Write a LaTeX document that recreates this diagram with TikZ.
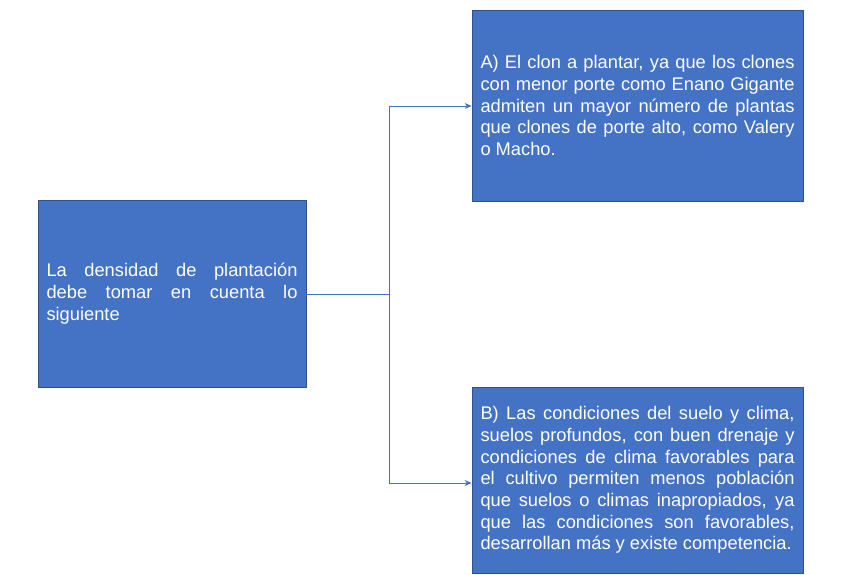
\documentclass[tikz,border=0pt]{standalone}
\usepackage{fontspec}
\setmainfont{Liberation Sans}
\usetikzlibrary{arrows.meta}
\definecolor{boxfill}{HTML}{4472C4}
\definecolor{boxline}{HTML}{2F528F}
\definecolor{conn}{HTML}{4472C4}
\begin{document}
\begin{tikzpicture}[x=1pt,y=-1pt,
  box/.style={draw=boxline,line width=0.8pt,fill=boxfill,text=white,inner sep=0pt,
    align=justify,font=\fontsize{18.3}{21.7}\selectfont},
  conline/.style={draw=conn,line width=0.9pt},
  arr/.style={conline,-{Stealth[length=7pt,width=6pt]}}]
\useasboundingbox (0,0) rectangle (857,574);
\node[box,minimum width=268pt,minimum height=187pt,text width=251pt] (L) at (172,293.5)
  {La densidad de plantación\linebreak debe tomar en cuenta lo\linebreak siguiente};
\node[box,minimum width=331pt,minimum height=191pt,text width=314pt] (A) at (637.5,105.5)
  {A) El clon a plantar, ya que los clones\linebreak con menor porte como Enano Gigante\linebreak admiten un mayor número de plantas\linebreak que clones de porte alto, como Valery\linebreak o Macho.};
\node[box,minimum width=331pt,minimum height=186pt,text width=314pt] (B) at (637.5,480)
  {B) Las condiciones del suelo y clima,\linebreak suelos profundos, con buen drenaje y\linebreak condiciones de clima favorables para\linebreak el cultivo permiten menos población\linebreak que suelos o climas inapropiados, ya\linebreak que las condiciones son favorables,\linebreak desarrollan más y existe competencia.};
\coordinate (J) at (389,294);
\coordinate (JA) at (389,106);
\coordinate (JB) at (389,483);
\draw[conline] (L.east |- J) -- (J);
\draw[arr] (J) -- (JA) -- (A.west |- JA);
\draw[arr] (J) -- (JB) -- (B.west |- JB);
\end{tikzpicture}
\end{document}
